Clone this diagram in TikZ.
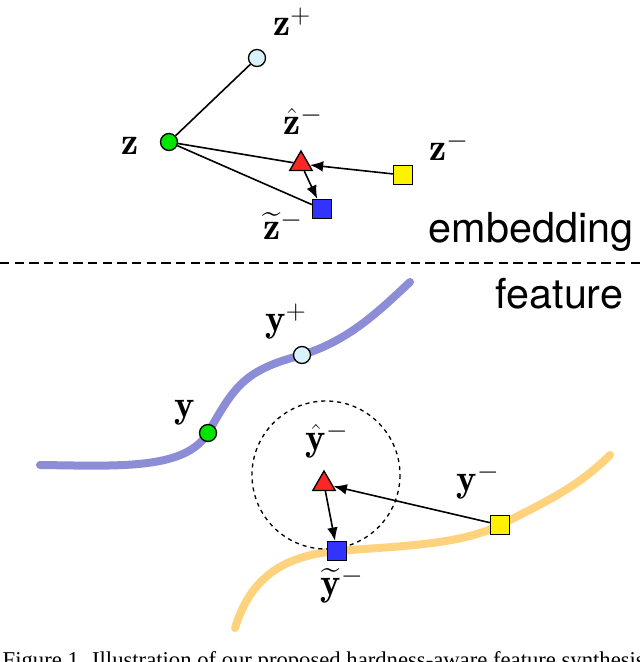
\documentclass[tikz,border=0pt]{standalone}
\usepackage{fontspec}
\usepackage{amsmath}
\newfontfamily\heros{TeX Gyre Heros}
\newfontfamily\capfont{Liberation Serif}
\usetikzlibrary{shapes.geometric,arrows.meta}
\begin{document}
\begin{tikzpicture}[x=0.75pt,y=-0.75pt,
  pt/.style={draw=black,line width=1pt,inner sep=0pt},
  circ/.style={pt,circle,minimum size=17pt*0.75},
  sq/.style={pt,rectangle,minimum size=19pt*0.75},
  tri/.style={pt,regular polygon,regular polygon sides=3,minimum size=26pt*0.75,fill=red!85!white},
  lab/.style={font=\fontsize{29}{31}\selectfont},
  con/.style={line width=1.2pt},
  arr/.style={con,-{Latex[length=10pt,width=8pt]}}]
\useasboundingbox (0,0) rectangle (640,662);
\clip (0,0) rectangle (640,662);
% embedding
\node[circ,fill=cyan!15] (zp) at (257,58) {};
\node[circ,fill=green!90!black] (z) at (169,142) {};
\node[tri] (zh) at (301,164) {};
\node[sq,fill=yellow] (zm) at (403,175) {};
\node[sq,fill=blue!80!white] (zt) at (322,209) {};
\node[lab] (lzp) at (292,22) {$\mathbf{z}^+$};
\node[lab] (lz) at (130,146) {$\mathbf{z}$};
\node[lab] (lzh) at (303,120) {$\hat{\mathbf{z}}^-$};
\node[lab] (lzm) at (449,146) {$\mathbf{z}^-$};
\node[lab] (lzt) at (283,225) {$\widetilde{\mathbf{z}}^-$};
\draw[con] (z) -- (zp);
\draw[con] (z) -- (zh);
\draw[con] (z) -- (zt);
\draw[arr] (zm) -- (zh);
\draw[arr] (zh) -- (zt);
\node[anchor=east,font=\heros\fontsize{31}{33}\selectfont] (emb) at (638,232) {embedding};
\draw[dashed,line width=1pt,dash pattern=on 7pt off 4pt] (0,263) coordinate (d1) -- (640,263) coordinate (d2);
\node[anchor=east,font=\heros\fontsize{31}{33}\selectfont] (feat) at (628,294) {feature};
% feature
\draw[line width=6pt,draw={rgb,255:red,140;green,140;blue,215},line cap=round]
  (40,465) .. controls (120,466) and (185,470) .. (208,433)
  .. controls (235,385) and (245,370) .. (302,355)
  .. controls (350,340) and (380,310) .. (410,282);
\draw[line width=6pt,draw={rgb,255:red,255;green,210;blue,125},line cap=round]
  (235,628) .. controls (250,580) and (280,556) .. (337,551)
  .. controls (400,546) and (460,545) .. (500,525)
  .. controls (550,500) and (580,485) .. (610,455);
\draw[dashed,line width=1pt] (326,475) circle (74);
\node[circ,fill=cyan!15] (yp) at (302,355) {};
\node[circ,fill=green!90!black] (y) at (208,433) {};
\node[tri] (yh) at (324,484) {};
\node[sq,fill=yellow] (ym) at (500,525) {};
\node[sq,fill=blue!80!white] (yt) at (337,551) {};
\node[lab] (lyp) at (286,322) {$\mathbf{y}^+$};
\node[lab] (ly) at (185,413) {$\mathbf{y}$};
\node[lab] (lyh) at (327,440) {$\hat{\mathbf{y}}^-$};
\node[lab] (lym) at (478,481) {$\mathbf{y}^-$};
\node[lab] (lyt) at (342,585) {$\widetilde{\mathbf{y}}^-$};
\draw[arr] (ym) -- (yh);
\draw[arr] (yh) -- (yt);
\node[anchor=west,font=\capfont\fontsize{17}{19}\selectfont] (cap) at (-2,662) {Figure 1. Illustration of our proposed hardness-aware feature synthesis};
\end{tikzpicture}
\end{document}
